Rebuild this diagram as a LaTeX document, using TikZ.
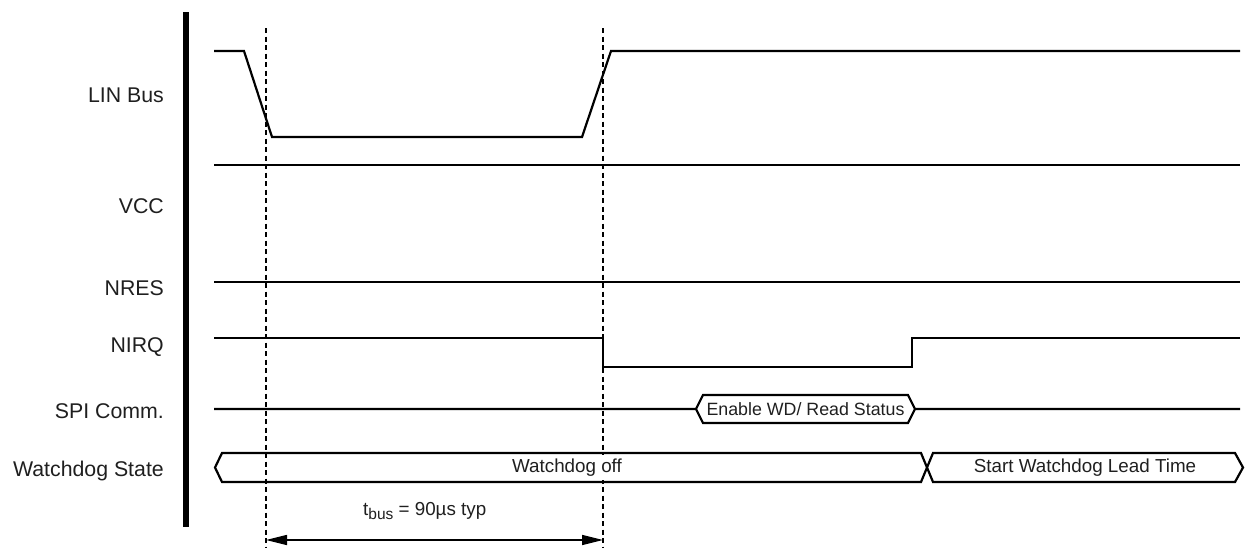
\documentclass[tikz,border=0pt]{standalone}
\usepackage{fontspec}
\setmainfont{Liberation Sans}
\usetikzlibrary{arrows.meta}
\begin{document}
\begin{tikzpicture}[x=1pt,y=-1pt,
  sig/.style={line width=2.2pt, line join=miter, line cap=butt},
  guide/.style={line width=1.1pt, dash pattern=on 5pt off 3.5pt},
  lbl/.style={font=\fontsize{21.3}{24}\selectfont, anchor=base east, inner sep=0pt, text=black!88},
  boxtxt/.style={font=\fontsize{18.8}{22}\selectfont, inner sep=0pt, text=black!88},
  dim/.style={line width=1.4pt, {Triangle[length=21pt,width=10pt]}-{Triangle[length=21pt,width=10pt]}}]
\useasboundingbox (0,0) rectangle (1249,547);

% thick axis bar
\draw[line width=6pt] (186,12) -- (186,527);

% guides
\draw[guide] (266,28) -- (266,547);
\draw[guide] (603,28) -- (603,547);

% labels
\node[lbl] (lLIN) at (164,102) {LIN Bus};
\node[lbl] (lVCC) at (164,213) {VCC};
\node[lbl] (lNRES) at (164,295) {NRES};
\node[lbl] (lNIRQ) at (164,352) {NIRQ};
\node[lbl] (lSPI) at (164,418) {SPI Comm.};
\node[lbl] (lWD) at (164,476) {Watchdog State};

% LIN Bus
\draw[sig] (214,51) -- (244,51) -- (272,137) -- (582,137) -- (611,51) -- (1240,51);
% VCC
\draw[sig] (214,165) -- (1240,165);
% NRES
\draw[sig] (214,282) -- (1240,282);
% NIRQ
\draw[sig] (214,338) -- (603,338) -- (603,367) -- (912,367) -- (912,338) -- (1240,338);

% SPI Comm
\draw[sig] (214,409) -- (696,409) -- (703,395) -- (908,395) -- (915,409) -- (1240,409);
\draw[sig] (696,409) -- (703,423) -- (908,423) -- (915,409);
\node[boxtxt, font=\fontsize{17.8}{21}\selectfont] (spitxt) at (805.5,409.5) {Enable WD/ Read Status};

% Watchdog State
\fill[white] (560,455) rectangle (630,480);
\draw[sig] (215,467.5) -- (222,453) -- (921,453) -- (933,482) -- (1235,482) -- (1243,467.5) -- (1235,453) -- (933,453) -- (921,482) -- (222,482) -- cycle;
\node[boxtxt] (wdoff) at (567,468) {Watchdog off};
\node[boxtxt] (wdstart) at (1085,468) {Start Watchdog Lead Time};

% dimension
\coordinate (d1) at (266,540);
\coordinate (d2) at (603,540);
\draw[dim] (d1) -- (d2);
\node[boxtxt, anchor=base west] (tbus) at (363,515) {t\raisebox{-4.5pt}{\fontsize{15.5}{18}\selectfont bus} = 90µs typ};
\end{tikzpicture}
\end{document}
